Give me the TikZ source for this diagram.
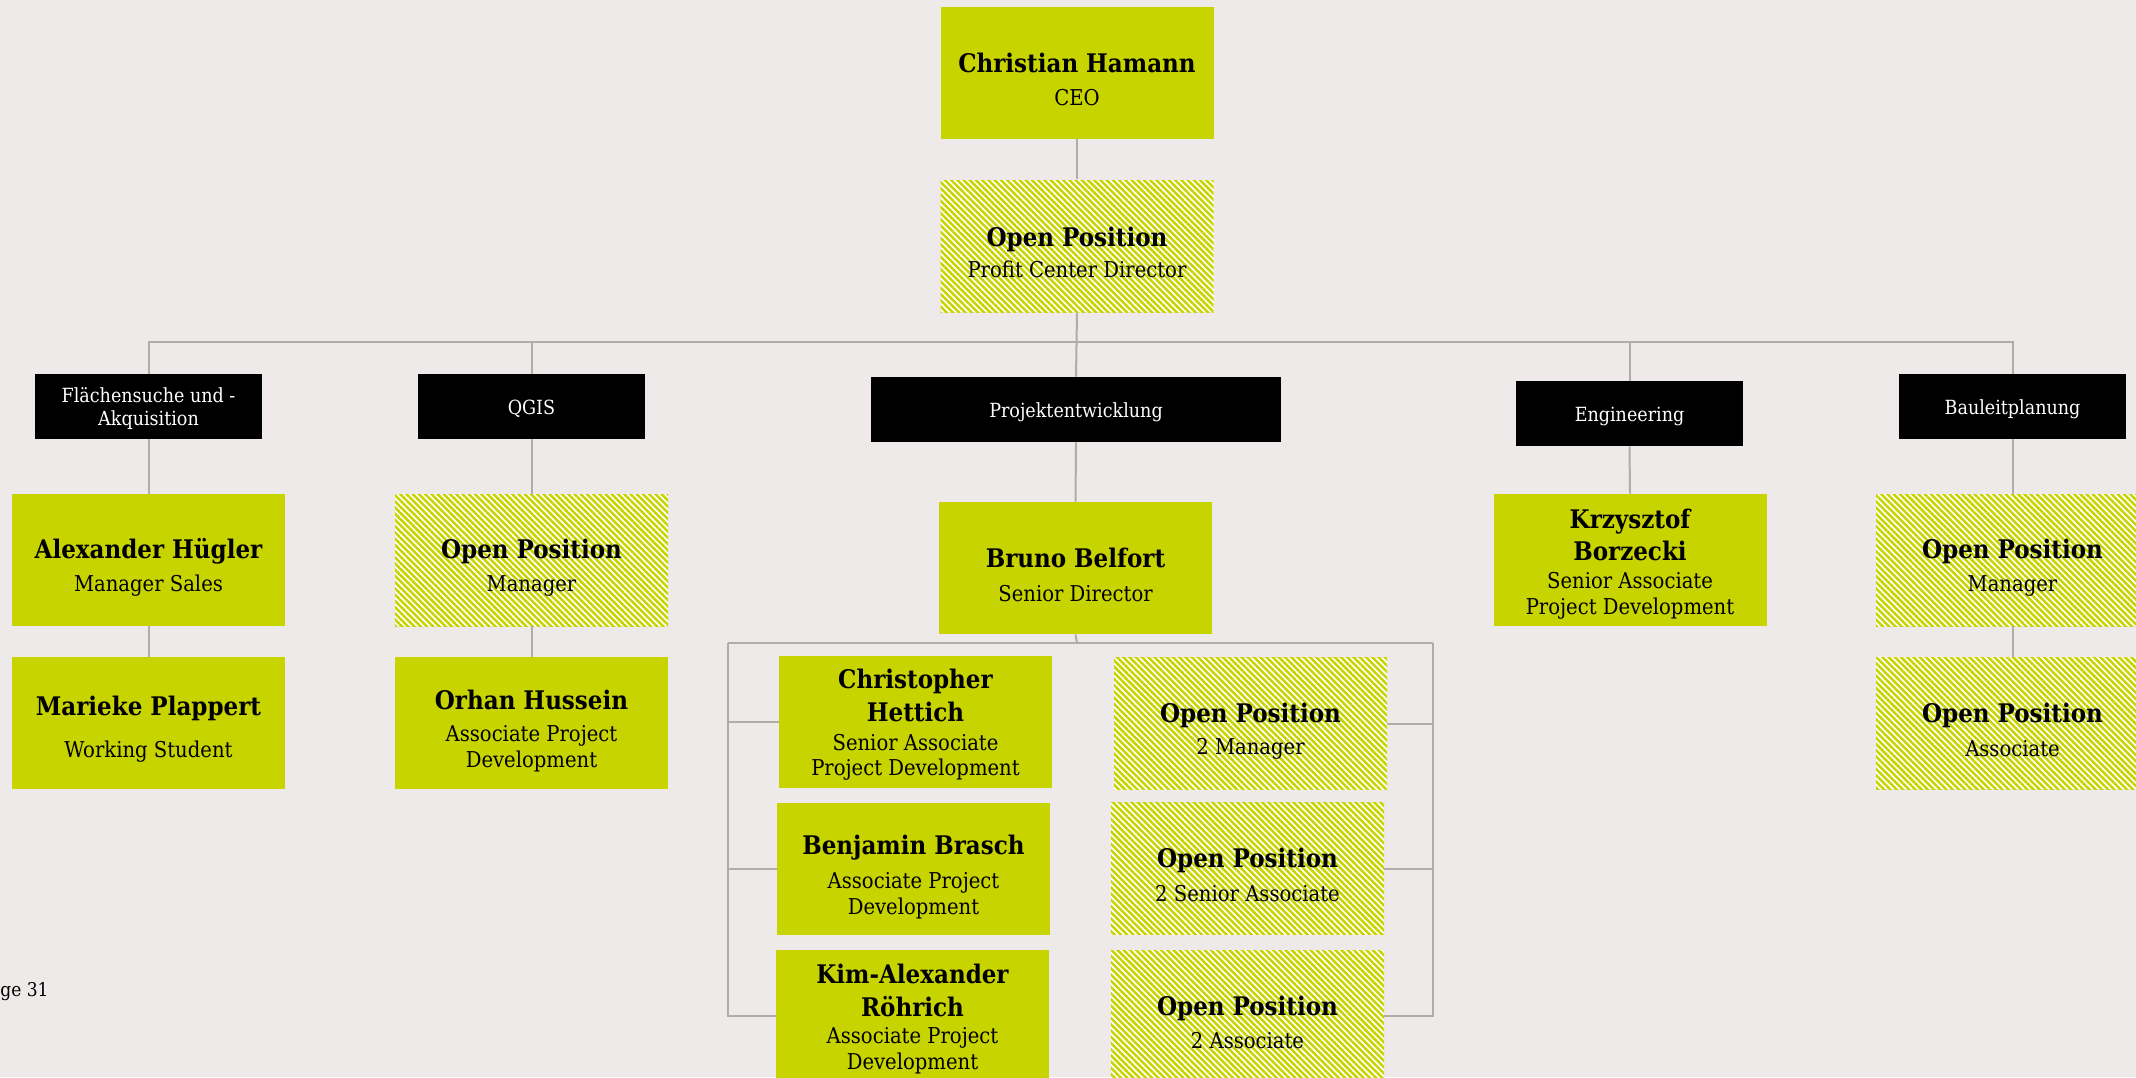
\documentclass[tikz,border=0pt]{standalone}
\usepackage{fontspec}
\setmainfont{DejaVu Serif Condensed}
\usetikzlibrary{patterns.meta}
\definecolor{bgc}{RGB}{238,234,233}
\definecolor{grn}{RGB}{200,212,0}
\definecolor{lnc}{RGB}{178,172,168}
\newcommand\nmf{\fontsize{12.8}{15}\selectfont\bfseries}
\newcommand\rlf{\fontsize{10.9}{12.8}\selectfont}
\newcommand\dpf{\fontsize{9.75}{11.5}\selectfont}
\newcommand\tsa{\rule{0pt}{16.3pt}}
\newcommand\tsc{\rule{0pt}{17.6pt}}
\newcommand\tsb{\rule{0pt}{12.8pt}}
\begin{document}
\begin{tikzpicture}[x=0.5pt,y=-0.5pt,
  person/.style={minimum width=136.5pt,minimum height=66pt,inner sep=0pt,align=center,font=\rlf,text=black},
  filled/.style={person,fill=grn},
  hatched/.style={person,preaction={fill=white},pattern={Lines[angle=-45,distance=2.2pt,line width=1.25pt]},pattern color=grn},
  dept/.style={fill=black,text=white,minimum width=113.5pt,minimum height=32.5pt,inner sep=0pt,align=center,font=\dpf,text height=8pt,text depth=0pt},
  conn/.style={draw=lnc,line width=1pt}]
\fill[bgc] (0,0) rectangle (2136,1077);
\useasboundingbox (0,0) rectangle (2136,1077);

% top
\node[filled] (ceo) at (1077,73) {\tsa{\nmf Christian Hamann}\\[3.5pt]CEO};
\node[hatched] (pcd) at (1077,246) {\tsa{\nmf Open Position}\\[2.6pt]Profit Center Director};

% departments
\node[dept,text height=,text depth=-0.5pt] (fl) at (148.5,406.5) {Flächensuche und -\\Akquisition};
\node[dept] (qg) at (531.5,406.5) {QGIS};
\node[dept,minimum width=205pt] (pe) at (1076,409.5) {Projektentwicklung};
\node[dept] (en) at (1629.5,413.5) {Engineering};
\node[dept] (bl) at (2012.5,406.5) {Bauleitplanung};

% column 1
\node[filled] (alex) at (148.5,560) {\tsc{\nmf Alexander Hügler}\\[3.5pt]Manager Sales};
\node[filled] (mar) at (148.5,723) {\tsa{\nmf Marieke Plappert}\\[8.2pt]Working Student};
% column 2
\node[hatched] (qop) at (531.5,560) {\tsc{\nmf Open Position}\\[3.5pt]Manager};
\node[filled] (orh) at (531.5,723) {\tsc{\nmf Orhan Hussein}\\[3.5pt]Associate Project\\Development};
% Projektentwicklung
\node[filled] (bru) at (1075.5,568) {\tsa{\nmf Bruno Belfort}\\[4.2pt]Senior Director};
\node[filled] (chr) at (915.5,722) {\tsb{\nmf Christopher}\\[3.5pt]{\nmf Hettich}\\[1.5pt]Senior Associate\\Project Development};
\node[filled] (ben) at (913.5,869) {\tsc{\nmf Benjamin Brasch}\\[4.2pt]Associate Project\\Development};
\node[filled] (kim) at (912.5,1016) {\tsb{\nmf Kim-Alexander}\\[3.5pt]{\nmf Röhrich}\\[0.8pt]Associate Project\\Development};
\node[hatched] (o2m) at (1250.5,723.5) {\tsc{\nmf Open Position}\\[3.4pt]2 Manager};
\node[hatched] (o2s) at (1247.5,868.5) {\tsa{\nmf Open Position}\\[4.2pt]2 Senior Associate};
\node[hatched] (o2a) at (1247.5,1016) {\tsa{\nmf Open Position}\\[3.5pt]2 Associate};
% Engineering
\node[filled] (krz) at (1630,560) {\rule{0pt}{14pt}{\nmf Krzysztof}\\[2.8pt]{\nmf Borzecki}\\[1.5pt]Senior Associate\\Project Development};
% Bauleitplanung
\node[hatched] (bop) at (2012.5,560) {\tsc{\nmf Open Position}\\[3.5pt]Manager};
\node[hatched] (bas) at (2012.5,723) {\tsa{\nmf Open Position}\\[4.2pt]Associate};

% page number
\node[anchor=west,inner sep=0pt,font=\fontsize{9.5}{11}\selectfont] (pg) at (0,992) {ge 31};

% connectors
\coordinate (bus) at (1077,342);
\coordinate (bj) at (1077,643);
\coordinate (bjl) at (728,643);
\coordinate (bjr) at (1433,643);
\draw[conn] (ceo.south) -- (pcd.north);
\draw[conn] (pcd.south) -- (pe.north);
\draw[conn] (fl.north) -- (fl.north |- bus) -- (bl.north |- bus) -- (bl.north);
\draw[conn] (qg.north |- bus) -- (qg.north);
\draw[conn] (en.north |- bus) -- (en.north);
\draw[conn] (fl.south) -- (alex.north);
\draw[conn] (alex.south) -- (mar.north);
\draw[conn] (qg.south) -- (qop.north);
\draw[conn] (qop.south) -- (orh.north);
\draw[conn] (pe.south) -- (bru.north);
\draw[conn] (en.south) -- (krz.north);
\draw[conn] (bl.south) -- (bop.north);
\draw[conn] (bop.south) -- (bas.north);
\draw[conn] (bru.south) -- (bj);
\draw[conn] (bjl) -- (bjr);
\draw[conn] (bjl) |- (chr.west);
\draw[conn] (bjl) |- (ben.west);
\draw[conn] (bjl) |- (kim.west);
\draw[conn] (bjr) |- (o2m.east);
\draw[conn] (bjr) |- (o2s.east);
\draw[conn] (bjr) |- (o2a.east);
\end{tikzpicture}
\end{document}
